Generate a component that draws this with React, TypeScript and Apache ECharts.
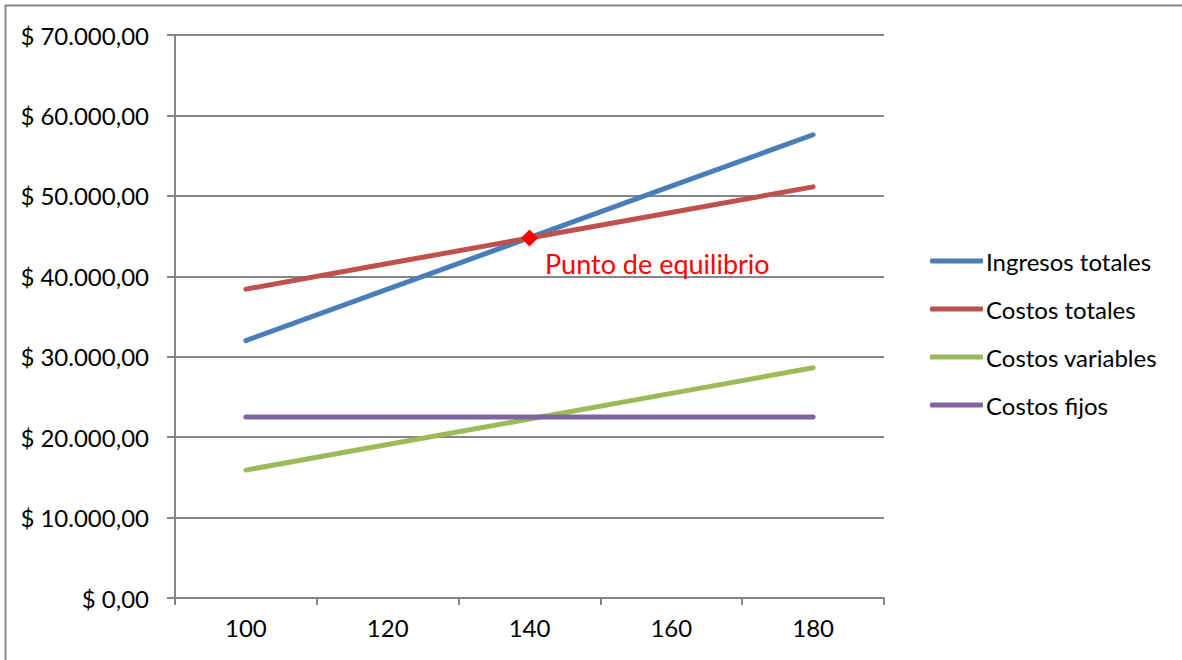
import React, { useEffect, useRef } from "react";
import * as echarts from "echarts";

const categories = ["100", "120", "140", "160", "180"];
const ingresosTotales = [32000, 38400, 44800, 51200, 57600];
const costosTotales = [38400, 41580, 44760, 47940, 51120];
const costosVariables = [15900, 19080, 22260, 25440, 28620];
const costosFijos = [22500, 22500, 22500, 22500, 22500];
const yTicks = { min: 0, max: 70000, interval: 10000 };
const equilibrio = { category: "140", value: 44760, label: "Punto de equilibrio" };

const FONT = "Lato";

function fmtMoney(v: number): string {
  const s = Math.round(v).toString().replace(/\B(?=(\d{3})+(?!\d))/g, ".");
  return "$ " + s + ",00";
}

export default function App() {
  const ref = useRef<HTMLDivElement>(null);
  useEffect(() => {
    if (!ref.current) return;
    const chart = echarts.init(ref.current, null, { renderer: "svg" });
    const gray = "#868686";
    const mkLine = (name: string, data: number[], color: string, extra: any = {}) => ({
      name,
      type: "line",
      data,
      symbol: "none",
      showSymbol: false,
      lineStyle: { color, width: 5, cap: "round" },
      itemStyle: { color },
      z: 3,
      ...extra,
    });
    chart.setOption({
      animation: false,
      textStyle: { fontFamily: FONT },
      graphic: [
        {
          type: "rect",
          shape: { x: 5.5, y: 5.5, width: 1300, height: 800 },
          style: { fill: "none", stroke: gray, lineWidth: 2 },
          silent: true,
          z: -10,
        },
      ],
      grid: { left: 175, right: 298, top: 35, bottom: 62, containLabel: false },
      legend: {
        orient: "vertical",
        left: 925,
        top: 244,
        itemWidth: 53,
        itemHeight: 5,
        itemGap: 24,
        icon: "roundRect",
        textStyle: { fontFamily: FONT, fontSize: 24, color: "#000", padding: [0, 0, 0, -2] },
        data: ["Ingresos totales", "Costos totales", "Costos variables", "Costos fijos"],
      },
      xAxis: {
        type: "category",
        data: categories,
        boundaryGap: true,
        axisLine: { show: true, lineStyle: { color: gray, width: 2 } },
        axisTick: { show: true, length: 7, lineStyle: { color: gray, width: 2 } },
        axisLabel: { fontFamily: FONT, fontSize: 24, color: "#000", margin: 17 },
        splitLine: { show: false },
      },
      yAxis: {
        type: "value",
        min: yTicks.min,
        max: yTicks.max,
        interval: yTicks.interval,
        axisLine: { show: true, lineStyle: { color: gray, width: 2 } },
        axisTick: { show: true, length: 8, lineStyle: { color: gray, width: 2 } },
        axisLabel: {
          fontFamily: FONT,
          fontSize: 24,
          color: "#000",
          margin: 26,
          formatter: (v: number) => fmtMoney(v),
        },
        splitLine: { show: true, lineStyle: { color: gray, width: 2 } },
      },
      series: [
        mkLine("Ingresos totales", ingresosTotales, "#4A7EBB"),
        mkLine("Costos totales", costosTotales, "#C0504D", {
          markPoint: {
            symbol: "diamond",
            symbolSize: 17,
            itemStyle: { color: "#FF0000" },
            data: [
              {
                coord: [equilibrio.category, equilibrio.value],
                value: equilibrio.value,
              },
            ],
            label: {
              show: true,
              formatter: equilibrio.label,
              position: "right",
              distance: 5,
              offset: [2, 25],
              color: "#FF0000",
              fontFamily: FONT,
              fontSize: 27,
            },
            z: 10,
          },
        }),
        mkLine("Costos variables", costosVariables, "#9BBB59"),
        mkLine("Costos fijos", costosFijos, "#8064A2"),
      ],
    });
    return () => chart.dispose();
  }, []);
  return (
    <div
      ref={ref}
      style={{ position: "absolute", left: 0, top: 0, width: 1182, height: 660 }}
    />
  );
}
